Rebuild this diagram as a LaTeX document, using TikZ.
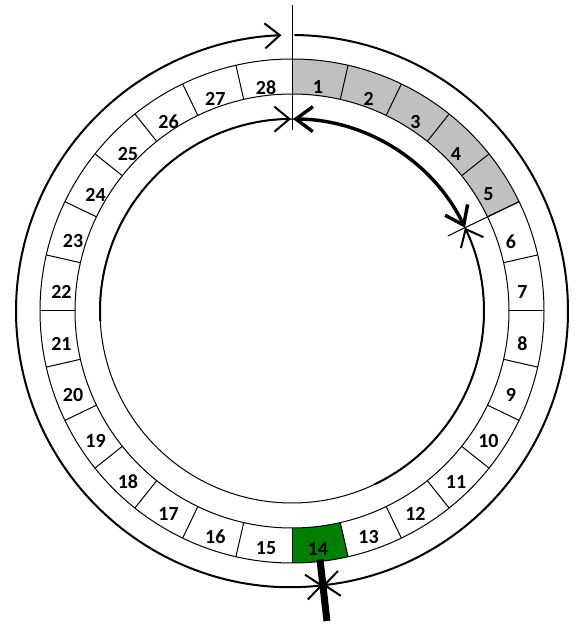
\documentclass[tikz,border=0pt]{standalone}
\usepackage{fontspec}
\setmainfont{Carlito}
\usetikzlibrary{arrows.meta}
\begin{document}
\begin{tikzpicture}[x=1pt,y=1pt,
  thinline/.style={line width=1pt},
  flow/.style={line width=2pt},
  bigflow/.style={line width=3.4pt},
  tipA/.tip={Straight Barb[length=15pt,width=25pt]},
  tipB/.tip={Straight Barb[length=17pt,width=25pt]},
  num/.style={font=\fontsize{20}{24}\selectfont\bfseries, inner sep=0pt},
  grayseg/.style={fill={rgb,255:red,192;green,192;blue,192}},
  greenseg/.style={fill={rgb,255:red,0;green,128;blue,0}}
]
\useasboundingbox (0,0) rectangle (580,625);
\coordinate (C) at (292,314);
\begin{scope}[shift={(C)}]
  % filled segments
  \foreach \i in {1,...,5} {
    \pgfmathsetmacro\a{90-(\i-1)*360/28}
    \pgfmathsetmacro\b{90-\i*360/28}
    \fill[grayseg] (\a:217) arc[start angle=\a, end angle=\b, radius=217] -- (\b:252) arc[start angle=\b, end angle=\a, radius=252] -- cycle;
  }
  \pgfmathsetmacro\a{90-13*360/28}
  \pgfmathsetmacro\b{90-14*360/28}
  \fill[greenseg] (\a:217) arc[start angle=\a, end angle=\b, radius=217] -- (\b:252) arc[start angle=\b, end angle=\a, radius=252] -- cycle;
  % ring
  \draw[thinline] (0,0) circle[radius=252];
  \draw[thinline] (0,0) circle[radius=217];
  \foreach \i in {1,...,28} {
    \pgfmathsetmacro\a{90-(\i-1)*360/28}
    \pgfmathsetmacro\m{90-(\i-0.5)*360/28}
    \draw[thinline] (\a:217) -- (\a:252);
    \node[num] (seg\i) at ([yshift=-7pt]\m:232) {\i};
  }
  % inner thin circle
  \draw[thinline] (0,0) circle[radius=192];
  % markers
  \coordinate (topA) at (0,306);
  \coordinate (topB) at (0,181);
  \draw[thinline] (topA) -- (topB);
  \coordinate (midA) at (25.714:252);
  \coordinate (midB) at (25.714:173);
  \draw[thinline] (midA) -- (midB);
  \coordinate (botA) at (-83.57:250);
  \coordinate (botB) at (-83.57:312);
  \draw[line width=7pt] (botA) -- (botB);
  % outer arcs
  \draw[flow, -{tipA}] (89.5:276) arc[start angle=89.5, end angle=-83.57, radius=276];
  \draw[flow, {tipA}-{tipA}] (-83.57:276) arc[start angle=-83.57, end angle=-267.8, radius=276];
  % inner arcs
  \draw[flow, -{tipA}] (183:192) arc[start angle=183, end angle=90.3, radius=192];
  \draw[flow, -{tipA}] (-64.6:192) arc[start angle=-64.6, end angle=25.714, radius=192];
  \draw[bigflow, {tipB}-{tipB}] (89.7:192) arc[start angle=89.7, end angle=25.714, radius=192];
\end{scope}
\end{tikzpicture}
\end{document}
